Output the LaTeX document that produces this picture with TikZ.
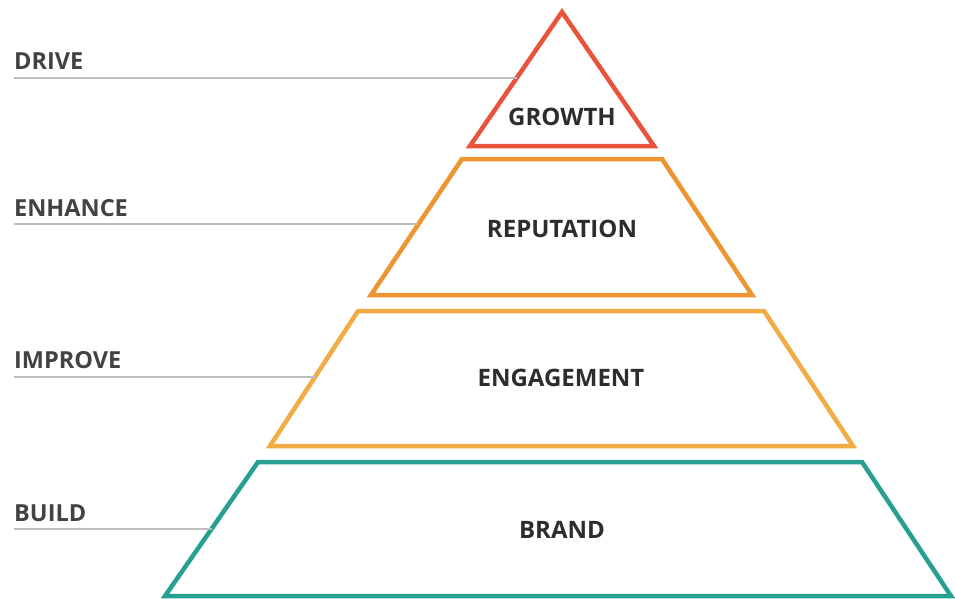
\documentclass[tikz,border=0pt]{standalone}
\usepackage{fontspec}
\setmainfont{Open Sans}
\usetikzlibrary{calc}

\definecolor{growthred}{HTML}{E8533A}
\definecolor{reporange}{HTML}{EE9530}
\definecolor{engorange}{HTML}{F2AC45}
\definecolor{brandteal}{HTML}{26A091}
\definecolor{guidegray}{HTML}{BDBDBD}
\definecolor{textgray}{HTML}{2D2D2D}

\begin{document}
\begin{tikzpicture}[x=1pt,y=-1pt,
  band/.style={line width=4.5pt, line join=miter, fill=white},
  level/.style={font=\bfseries\fontsize{24}{24}\selectfont, text=textgray},
  side/.style={font=\bfseries\fontsize{23.5}{24}\selectfont, text=textgray!90, anchor=base west, inner sep=0pt},
  guide/.style={draw=guidegray, line width=1.8pt}]
\useasboundingbox (0,0) rectangle (955,599);
% growth
\coordinate (g-top) at (562,12);
\coordinate (g-bl) at (470,146);
\coordinate (g-br) at (654,146);
\draw[band, draw=growthred] (g-top) -- (g-bl) -- (g-br) -- cycle;
\node[level] (growth) at (562,117) {GROWTH};
% reputation
\coordinate (r-tl) at (462,159);
\coordinate (r-tr) at (662,159);
\coordinate (r-bl) at (371,295);
\coordinate (r-br) at (752,295);
\draw[band, draw=reporange] (r-tl) -- (r-tr) -- (r-br) -- (r-bl) -- cycle;
\node[level] (reputation) at (562,229) {REPUTATION};
% engagement
\coordinate (e-tl) at (358,311);
\coordinate (e-tr) at (764,311);
\coordinate (e-bl) at (270,446);
\coordinate (e-br) at (853,446);
\draw[band, draw=engorange] (e-tl) -- (e-tr) -- (e-br) -- (e-bl) -- cycle;
\node[level] (engagement) at (561,378) {ENGAGEMENT};
% brand
\coordinate (b-tl) at (258,462);
\coordinate (b-tr) at (862,462);
\coordinate (b-bl) at (165,596);
\coordinate (b-br) at (951,596);
\draw[band, draw=brandteal] (b-tl) -- (b-tr) -- (b-br) -- (b-bl) -- cycle;
\node[level] (brand) at (562,530) {BRAND};

% side labels and guide lines
\node[side] (drive) at (14,70) {DRIVE};
\coordinate (g-side) at ($(g-top)!.49!(g-bl)$);
\draw[guide] (drive.west |- g-side) -- (g-side);

\node[side] (enhance) at (14,216) {ENHANCE};
\coordinate (r-side) at ($(r-tl)!.48!(r-bl)$);
\draw[guide] (enhance.west |- r-side) -- (r-side);

\node[side] (improve) at (14,368) {IMPROVE};
\coordinate (e-side) at ($(e-tl)!.49!(e-bl)$);
\draw[guide] (improve.west |- e-side) -- (e-side);

\node[side] (build) at (14,521) {BUILD};
\coordinate (b-side) at ($(b-tl)!.5!(b-bl)$);
\draw[guide] (build.west |- b-side) -- (b-side);
\end{tikzpicture}
\end{document}
